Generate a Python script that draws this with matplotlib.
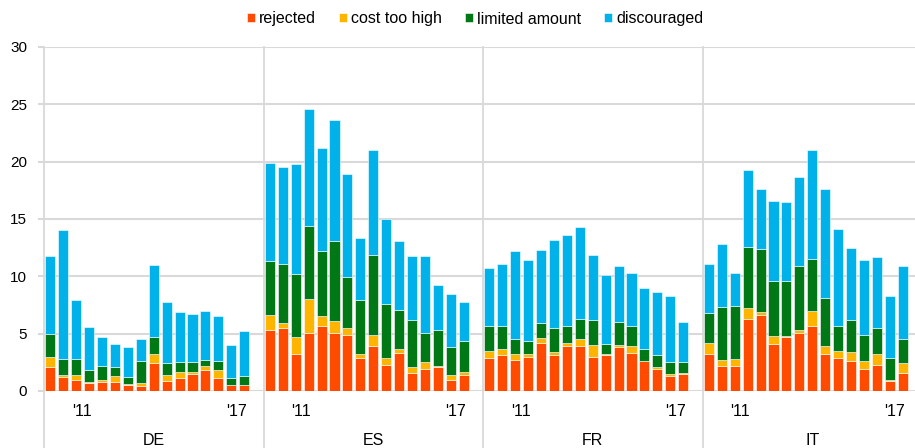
import matplotlib
import matplotlib.pyplot as plt
import numpy as np

matplotlib.use("agg")
plt.rcParams["font.family"] = ["Liberation Sans", "DejaVu Sans"]

countries = ["DE", "ES", "FR", "IT"]
year_labels = ["'11", "'17"]
series_names = ["rejected", "cost too high", "limited amount", "discouraged"]
colors = ["#FF4B00", "#FFB400", "#007816", "#00B1EA"]

rejected = {
    "DE": [2.1, 1.2, 1.0, 0.7, 0.8, 0.8, 0.5, 0.4, 2.4, 0.9, 1.1, 1.5, 1.8, 1.1, 0.5, 0.5],
    "ES": [5.3, 5.5, 3.2, 5.1, 5.7, 5.1, 4.9, 2.9, 3.9, 2.3, 3.3, 1.6, 1.9, 2.1, 1.0, 1.4],
    "FR": [2.9, 3.1, 2.7, 3.0, 4.2, 3.1, 3.9, 3.9, 3.0, 3.1, 3.8, 3.3, 2.6, 1.9, 1.3, 1.5],
    "IT": [3.2, 2.2, 2.2, 6.3, 6.6, 4.1, 4.7, 5.1, 5.7, 3.2, 2.9, 2.6, 1.9, 2.3, 0.9, 1.6],
}
cost_too_high = {
    "DE": [0.9, 0.2, 0.4, 0.1, 0.2, 0.5, 0.1, 0.3, 0.8, 0.5, 0.6, 0.2, 0.4, 0.7, 0.05, 0.05],
    "ES": [1.3, 0.4, 1.5, 2.9, 0.8, 1.0, 0.6, 0.3, 1.0, 0.6, 0.4, 0.5, 0.6, 0.05, 0.4, 0.3],
    "FR": [0.6, 0.6, 0.5, 0.2, 0.4, 0.3, 0.3, 0.6, 1.0, 0.1, 0.2, 0.6, 0.05, 0.2, 0.2, 0.1],
    "IT": [1.0, 0.5, 0.6, 0.9, 0.3, 0.7, 0.1, 0.2, 1.3, 0.7, 0.6, 0.8, 0.7, 0.9, 0.1, 0.8],
}
limited_amount = {
    "DE": [2.0, 1.4, 1.4, 1.0, 1.2, 0.8, 0.6, 1.9, 1.5, 1.0, 0.8, 0.8, 0.5, 0.8, 0.6, 0.8],
    "ES": [4.7, 5.2, 5.5, 6.4, 5.7, 7.0, 4.4, 4.7, 7.0, 4.7, 3.4, 4.1, 2.6, 3.2, 2.4, 2.7],
    "FR": [2.2, 2.0, 1.3, 1.2, 1.3, 2.1, 1.5, 1.8, 2.2, 0.9, 2.0, 1.8, 1.0, 1.0, 1.0, 0.9],
    "IT": [2.6, 4.6, 4.6, 5.4, 5.5, 4.8, 4.8, 5.6, 4.5, 4.2, 2.2, 2.8, 2.3, 2.3, 1.9, 2.1],
}
discouraged = {
    "DE": [6.8, 11.2, 5.1, 3.8, 2.5, 2.0, 2.6, 1.9, 6.3, 5.4, 4.4, 4.2, 4.3, 3.9, 2.9, 3.9],
    "ES": [8.6, 8.4, 9.6, 10.2, 9.0, 10.5, 9.0, 5.4, 9.1, 7.4, 6.0, 5.6, 6.7, 3.9, 4.7, 3.4],
    "FR": [5.0, 5.4, 7.7, 7.0, 6.4, 7.7, 7.9, 8.0, 5.7, 6.0, 4.9, 4.6, 5.3, 5.5, 5.8, 3.5],
    "IT": [4.3, 5.5, 2.9, 6.7, 5.2, 7.0, 6.9, 7.8, 9.5, 9.5, 8.4, 6.3, 6.5, 6.2, 5.4, 6.4],
}

n_bars = 16
slot = n_bars + 1  # one empty slot between country panels
grid_col = "#d9d9d9"

fig = plt.figure(figsize=(9.15, 4.48), dpi=100)
ax = fig.add_axes([44 / 915, 1 - 391 / 448, 878 / 915, 344 / 448])

series = [rejected, cost_too_high, limited_amount, discouraged]
for g, c in enumerate(countries):
    x = g * slot + 0.5 + np.arange(n_bars)
    bottom = np.zeros(n_bars)
    for name, data, col in zip(series_names, series, colors):
        vals = np.array(data[c])
        ax.bar(x, vals, width=0.78, bottom=bottom, color=col,
               edgecolor="white", linewidth=0.4,
               label=name if g == 0 else None, zorder=3)
        bottom += vals

ax.set_xlim(0, slot * len(countries))
ax.set_ylim(0, 30)
ax.set_yticks(range(0, 31, 5))
ax.grid(axis="y", color=grid_col, linewidth=1.5, zorder=0)
ax.tick_params(axis="y", length=4, color=grid_col, width=1.5, labelsize=11, pad=8)
for s in ax.spines.values():
    s.set_visible(False)

ticks, labels = [], []
for g in range(len(countries)):
    ticks += [g * slot + 2.9, g * slot + 14.9]
    labels += year_labels
ax.set_xticks(ticks, labels)
ax.tick_params(axis="x", length=0, labelsize=11.5, pad=9)

for g, c in enumerate(countries):
    ax.axvline(g * slot, ymin=-57 / 344, ymax=1, color=grid_col,
               linewidth=1.3, clip_on=False, zorder=1)
    ax.text(g * slot + slot / 2, -49 / 344, c, transform=ax.get_xaxis_transform(),
            ha="center", va="center", fontsize=11.5)

fig.legend(loc="center", bbox_to_anchor=(475 / 915, 1 - 19 / 448), ncol=4,
           frameon=False, fontsize=11.5, handlelength=0.5, handleheight=0.5,
           handletextpad=0.25, columnspacing=1.45)

fig.savefig("out.png", dpi=100)
